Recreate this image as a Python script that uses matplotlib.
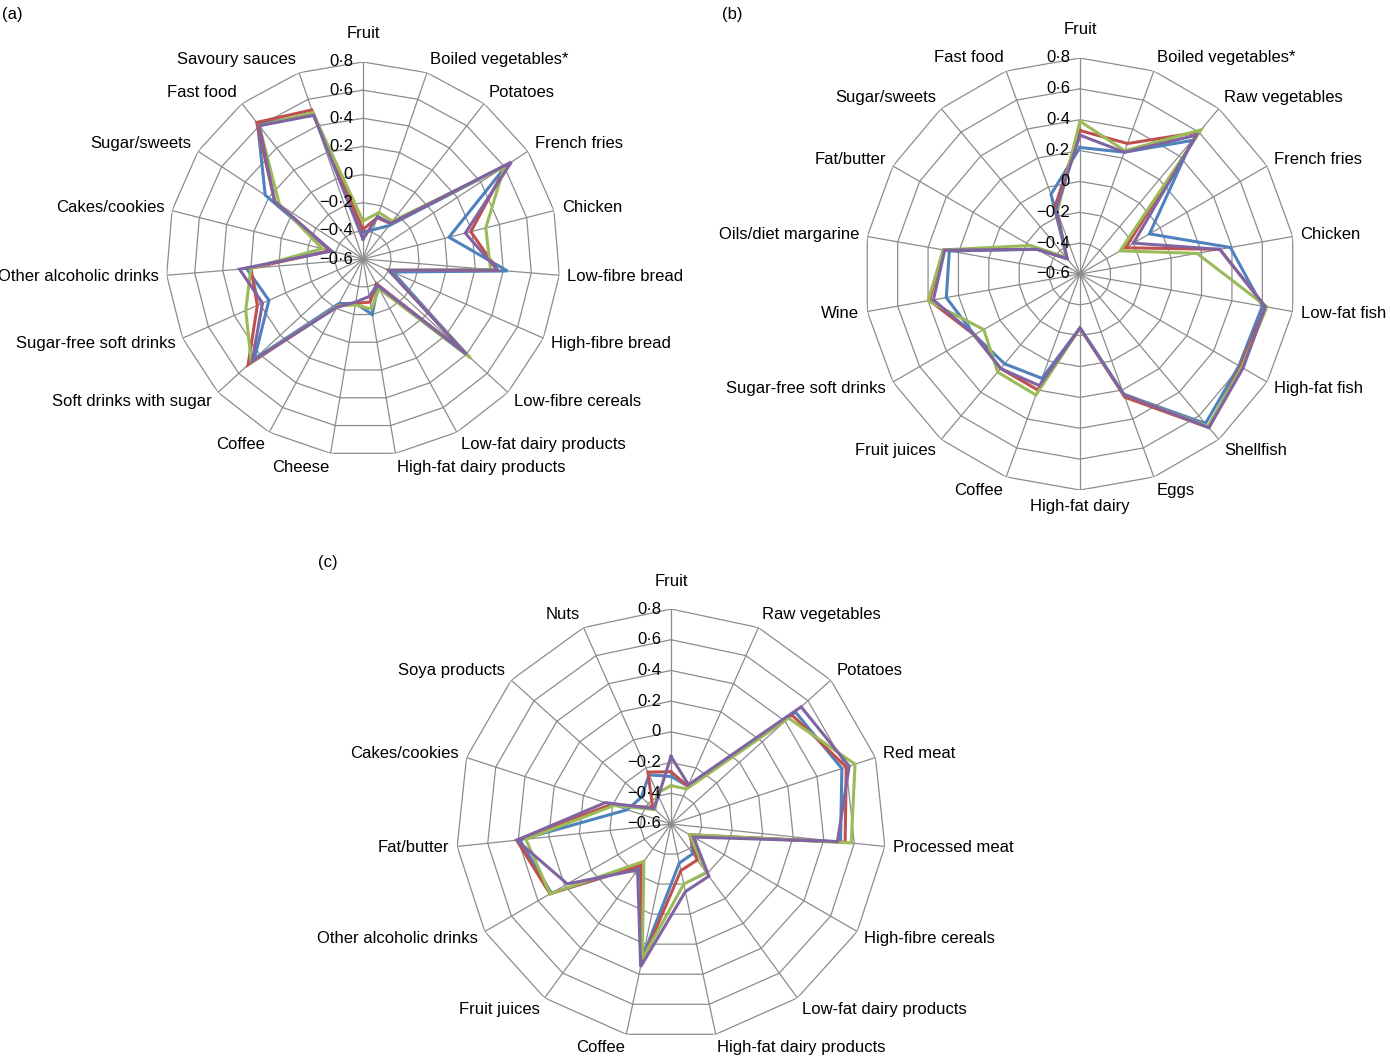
import numpy as np
import matplotlib
matplotlib.use('Agg')
import matplotlib.pyplot as plt

plt.rcParams['font.family'] = ['Liberation Sans', 'DejaVu Sans']
plt.rcParams['font.size'] = 12

W, H = 1390, 1056

# radial scale
tick_vals = [-0.6, -0.4, -0.2, 0.0, 0.2, 0.4, 0.6, 0.8]
tick_labels = ['\u22120\u00b76', '\u22120\u00b74', '\u22120\u00b72', '0',
               '0\u00b72', '0\u00b74', '0\u00b76', '0\u00b78']

series_colors = ['#4f81bd', '#c0504d', '#9bbb59', '#8064a2']

# (a)
cats_a = ['Fruit', 'Boiled vegetables*', 'Potatoes', 'French fries', 'Chicken',
          'Low-fibre bread', 'High-fibre bread', 'Low-fibre cereals',
          'Low-fat dairy products', 'High-fat dairy products', 'Cheese', 'Coffee',
          'Soft drinks with sugar', 'Sugar-free soft drinks', 'Other alcoholic drinks',
          'Cakes/cookies', 'Sugar/sweets', 'Fast food', 'Savoury sauces']
blue_a = [-0.41, -0.38, -0.30, 0.62, 0.03, 0.43, -0.37, 0.40, -0.38, -0.20,
          -0.28, -0.24, 0.45, 0.13, 0.23, -0.36, 0.23, 0.62, 0.48]
red_a = [-0.39, -0.29, -0.28, 0.62, 0.19, 0.36, -0.40, 0.40, -0.40, -0.29,
         -0.28, -0.22, 0.51, 0.22, 0.20, -0.36, 0.15, 0.63, 0.52]
green_a = [-0.33, -0.25, -0.26, 0.60, 0.30, 0.31, -0.40, 0.44, -0.36, -0.24,
           -0.27, -0.22, 0.48, 0.31, 0.20, -0.30, 0.11, 0.60, 0.50]
purple_a = [-0.46, -0.28, -0.28, 0.66, 0.15, 0.36, -0.40, 0.40, -0.39, -0.33,
            -0.29, -0.21, 0.47, 0.18, 0.28, -0.37, 0.15, 0.60, 0.48]

# (b)
cats_b = ['Fruit', 'Boiled vegetables*', 'Raw vegetables', 'French fries', 'Chicken',
          'Low-fat fish', 'High-fat fish', 'Shellfish', 'Eggs', 'High-fat dairy',
          'Coffee', 'Fruit juices', 'Sugar-free soft drinks', 'Wine',
          'Oils/diet margarine', 'Fat/butter', 'Sugar/sweets', 'Fast food']
blue_b = [0.22, 0.24, 0.53, -0.08, 0.39, 0.60, 0.59, 0.665, 0.23, -0.25,
          0.12, 0.16, 0.19, 0.28, 0.26, -0.28, -0.47, -0.05]
red_b = [0.33, 0.30, 0.60, -0.26, 0.32, 0.62, 0.60, 0.70, 0.25, -0.25,
         0.20, 0.20, 0.19, 0.39, 0.30, -0.28, -0.47, -0.13]
green_b = [0.39, 0.25, 0.62, -0.30, 0.17, 0.63, 0.61, 0.69, 0.23, -0.25,
           0.235, 0.23, 0.12, 0.40, 0.30, -0.23, -0.46, -0.17]
purple_b = [0.30, 0.24, 0.575, -0.20, 0.32, 0.62, 0.62, 0.70, 0.23, -0.25,
            0.17, 0.20, 0.19, 0.365, 0.29, -0.28, -0.47, -0.15]

# (c)
cats_c = ['Fruit', 'Raw vegetables', 'Potatoes', 'Red meat', 'Processed meat',
          'High-fibre cereals', 'Low-fat dairy products', 'High-fat dairy products',
          'Coffee', 'Fruit juices', 'Other alcoholic drinks', 'Fat/butter',
          'Cakes/cookies', 'Soya products', 'Nuts']
blue_c = [-0.29, -0.33, 0.49, 0.57, 0.51, -0.45, -0.36, -0.34, 0.28, -0.26,
          0.30, 0.39, -0.30, -0.34, -0.25]
red_c = [-0.26, -0.33, 0.46, 0.60, 0.54, -0.46, -0.31, -0.29, 0.32, -0.27,
         0.31, 0.41, -0.19, -0.44, -0.23]
green_c = [-0.35, -0.35, 0.43, 0.66, 0.58, -0.46, -0.21, -0.20, 0.30, -0.30,
           0.31, 0.35, -0.21, -0.46, -0.38]
purple_c = [-0.16, -0.32, 0.54, 0.62, 0.49, -0.43, -0.18, -0.15, 0.35, -0.23,
            0.18, 0.41, -0.15, -0.45, -0.40]


def px2pt(p):
    return p * 72.0 / 100.0


def radar(fig, cx, cy, R, cats, series):
    rect = [(cx - R) / W, (H - cy - R) / H, 2 * R / W, 2 * R / H]
    ax = fig.add_axes(rect, projection='polar')
    ax.set_theta_zero_location('N')
    ax.set_theta_direction(-1)
    ax.set_ylim(tick_vals[0], tick_vals[-1])
    ax.axis('off')

    n = len(cats)
    th = np.arange(n) * 2 * np.pi / n
    thc = np.append(th, th[0])

    # polygon grid
    for r in tick_vals[1:]:
        ax.plot(thc, [r] * (n + 1), color='#8c8c8c', lw=0.9, zorder=1)
    for t in th:
        ax.plot([t, t], [tick_vals[0], tick_vals[-1]], color='#8c8c8c', lw=0.9, zorder=1)

    for vals, col in zip(series, series_colors):
        ax.plot(thc, list(vals) + [vals[0]], color=col, lw=2.2, zorder=3,
                solid_joinstyle='miter')

    # radial tick labels along the first spoke
    for r, lab in zip(tick_vals, tick_labels):
        ax.annotate(lab, xy=(0, r), xytext=(px2pt(-10), 0), textcoords='offset points',
                    ha='right', va='center', fontsize=12, zorder=4,
                    annotation_clip=False)

    # category labels
    for t, name in zip(th, cats):
        s, c = np.sin(t), np.cos(t)
        if abs(s) < 0.05:
            ha = 'center'
            d = 28 if c > 0 else 16
            dx, dy = 0, d * c
        else:
            ha = 'left' if s > 0 else 'right'
            dx = 8 * s
            dy = 8 * c + 6 * c
        ax.annotate(name, xy=(t, tick_vals[-1]), xytext=(px2pt(dx), px2pt(dy)),
                    textcoords='offset points', ha=ha, va='center', fontsize=12,
                    annotation_clip=False)
    return ax


fig = plt.figure(figsize=(W / 100, H / 100), dpi=100)

radar(fig, 363, 259, 197, cats_a, [blue_a, red_a, green_a, purple_a])
radar(fig, 1080, 274, 216, cats_b, [blue_b, red_b, green_b, purple_b])
radar(fig, 671, 824, 215, cats_c, [blue_c, red_c, green_c, purple_c])

fig.text(2 / W, 1 - 14 / H, '(a)', ha='left', va='center', fontsize=12)
fig.text(722 / W, 1 - 14 / H, '(b)', ha='left', va='center', fontsize=12)
fig.text(318 / W, 1 - 563 / H, '(c)', ha='left', va='center', fontsize=12)

fig.savefig('out.png', dpi=100)
